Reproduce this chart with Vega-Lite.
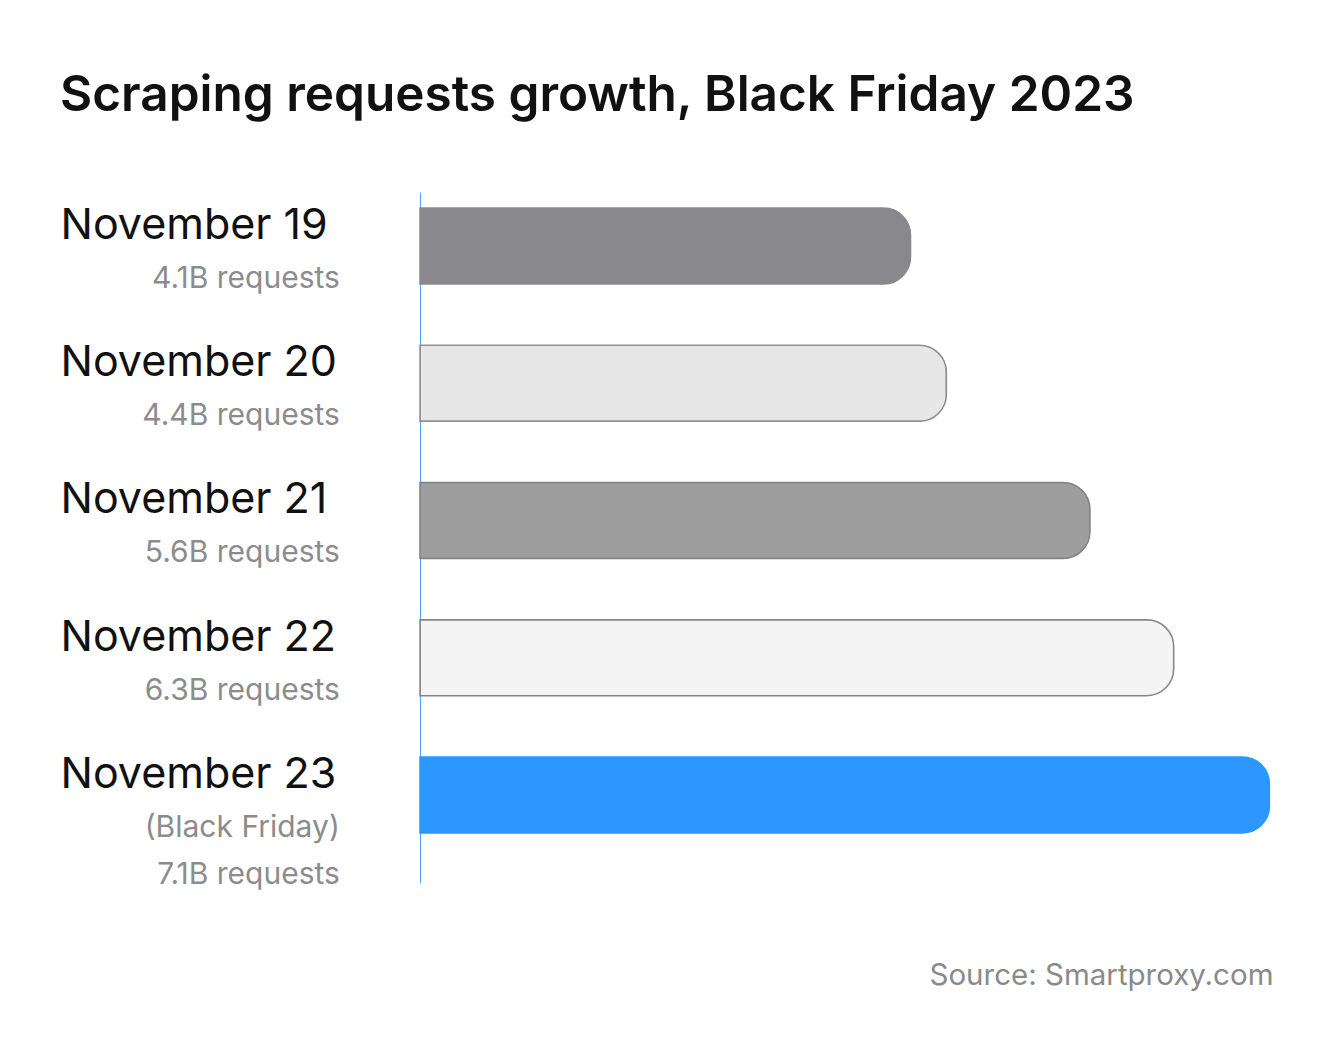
{
  "$schema": "https://vega.github.io/schema/vega-lite/v6.json",
  "autosize": "none",
  "width": 853,
  "height": 691,
  "padding": {"left": 420, "top": 192, "right": 62, "bottom": 170},
  "background": "#ffffff",
  "title": {
    "text": "Scraping requests growth, Black Friday 2023",
    "anchor": "start",
    "frame": "bounds",
    "font": "Inter",
    "fontSize": 49.5,
    "fontWeight": 600,
    "color": "#111111",
    "baseline": "alphabetic",
    "offset": 32,
    "dx": 0
  },
  "config": {
    "view": {"stroke": null},
    "font": "Inter"
  },
  "data": {
    "values": [
      {"day": "November 19", "requests": 4.1, "note": "4.1B requests"},
      {"day": "November 20", "requests": 4.4, "note": "4.4B requests"},
      {"day": "November 21", "requests": 5.6, "note": "5.6B requests"},
      {"day": "November 22", "requests": 6.3, "note": "6.3B requests"},
      {"day": "November 23", "requests": 7.1, "note": "(Black Friday)\n7.1B requests"}
    ]
  },
  "encoding": {
    "y": {
      "field": "day",
      "type": "nominal",
      "sort": null,
      "scale": {"paddingInner": 0.446, "paddingOuter": 0.2405, "align": 0.2424},
      "axis": {
        "title": null,
        "orient": "left",
        "domain": true,
        "domainColor": "#4ea5ff",
        "domainWidth": 1,
        "ticks": false,
        "grid": false,
        "labelAlign": "left",
        "labelBaseline": "alphabetic",
        "labelPadding": 360,
        "labelOffset": -7,
        "labelFont": "Inter",
        "labelFontSize": 43,
        "labelFontWeight": 400,
        "labelColor": "#111111",
        "labelLimit": 400
      }
    }
  },
  "layer": [
    {
      "mark": {"type": "bar", "cornerRadiusEnd": 27, "strokeWidth": 1.5},
      "encoding": {
        "x": {
          "field": "requests",
          "type": "quantitative",
          "scale": {"domain": [0, 7.13], "nice": false, "zero": true},
          "axis": {
            "title": "Source: Smartproxy.com",
            "titleAnchor": "end",
            "titleFont": "Inter",
            "titleFontSize": 29.5,
            "titleFontWeight": 400,
            "titleColor": "#8a8a8a",
            "titleBaseline": "alphabetic",
            "titlePadding": 101,
            "domain": false,
            "ticks": false,
            "labels": false,
            "grid": false
          }
        },
        "color": {
          "field": "day",
          "type": "nominal",
          "legend": null,
          "scale": {
            "domain": ["November 19", "November 20", "November 21", "November 22", "November 23"],
            "range": ["#89888d", "#e7e7e7", "#9d9e9d", "#f4f4f4", "#2b97ff"]
          }
        },
        "stroke": {
          "field": "day",
          "type": "nominal",
          "legend": null,
          "scale": {
            "domain": ["November 19", "November 20", "November 21", "November 22", "November 23"],
            "range": ["#89888d", "#8f8f8f", "#828282", "#858585", "#2b97ff"]
          }
        }
      }
    },
    {
      "mark": {
        "type": "text",
        "align": "right",
        "baseline": "alphabetic",
        "dy": 42,
        "font": "Inter",
        "fontSize": 30,
        "color": "#8c8c8c",
        "lineBreak": "\n",
        "lineHeight": 47
      },
      "encoding": {
        "x": {"datum": -0.67, "type": "quantitative"},
        "text": {"field": "note"}
      }
    }
  ]
}
